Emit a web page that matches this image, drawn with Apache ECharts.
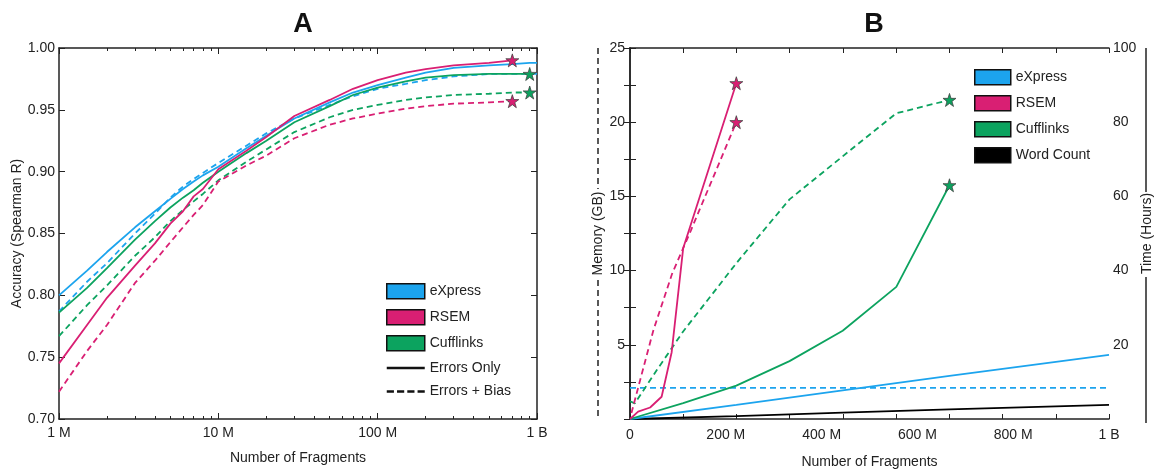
<!DOCTYPE html>
<html>
<head>
<meta charset="UTF-8">
<title>eXpress accuracy / resources</title>
<script src="https://cdn.jsdelivr.net/npm/echarts@6/dist/echarts.min.js"></script>
<style>
  html, body { margin: 0; padding: 0; background: #fff; }
  #main { width: 1158px; height: 470px; }
</style>
</head>
<body>
<div id="main"></div>
<script>
// panel A: accuracy vs number of fragments (millions, log axis)
var fragA = [1, 1.5, 2, 3, 4, 5, 6, 7, 8, 10, 15, 20, 30, 50, 70, 100, 150, 200, 300, 500, 700, 900, 1000];
var expressErrA  = [0.800, 0.820, 0.835, 0.855, 0.868, 0.878, 0.886, 0.892, 0.897, 0.904, 0.919, 0.929, 0.943, 0.956, 0.964, 0.970, 0.976, 0.980, 0.984, 0.986, 0.987, 0.988, 0.988];
var expressBiasA = [0.787, 0.811, 0.826, 0.850, 0.866, 0.879, 0.888, 0.894, 0.899, 0.907, 0.921, 0.931, 0.943, 0.954, 0.961, 0.967, 0.971, 0.974, 0.977, 0.979, 0.979, 0.979, 0.979];
var rsemErrA     = [0.745, 0.776, 0.798, 0.824, 0.842, 0.858, 0.868, 0.880, 0.886, 0.902, 0.917, 0.928, 0.945, 0.958, 0.967, 0.974, 0.980, 0.983, 0.986, 0.988, 0.990, null, null];
var rsemBiasA    = [0.722, 0.755, 0.776, 0.810, 0.828, 0.843, 0.855, 0.865, 0.873, 0.892, 0.905, 0.913, 0.927, 0.938, 0.943, 0.947, 0.951, 0.953, 0.955, 0.956, 0.957, null, null];
var cuffErrA     = [0.786, 0.806, 0.822, 0.845, 0.860, 0.871, 0.879, 0.885, 0.891, 0.900, 0.915, 0.925, 0.940, 0.953, 0.962, 0.968, 0.973, 0.976, 0.978, 0.979, 0.979, 0.979, null];
var cuffBiasA    = [0.767, 0.792, 0.808, 0.832, 0.847, 0.860, 0.869, 0.876, 0.882, 0.893, 0.908, 0.918, 0.932, 0.944, 0.950, 0.954, 0.958, 0.960, 0.962, 0.963, 0.964, 0.964, null];
var minorTicksA  = [2, 3, 4, 5, 6, 7, 8, 9, 20, 30, 40, 50, 60, 70, 80, 90, 200, 300, 400, 500, 600, 700, 800, 900];

// panel B: memory (GB, dashed) and time (hours, solid) vs fragments (millions)
var rsemTimeX    = [0, 17, 42, 66, 87, 111, 222];
var rsemTimeH    = [0, 2.0, 3.1, 6.0, 18.0, 46.0, 90.5];
var rsemMemX     = [3, 21, 49, 88, 127, 222];
var rsemMemGB    = [0.4, 2.6, 6.0, 9.8, 12.7, 20.0];
var cuffTimeX    = [0, 111, 222, 333, 444, 556, 667];
var cuffTimeH    = [0, 4.3, 9.0, 15.6, 23.8, 35.6, 63.0];
var cuffMemX     = [0, 10, 56, 111, 222, 333, 444, 556, 667];
var cuffMemGB    = [1.2, 1.05, 3.3, 5.9, 10.5, 14.8, 17.7, 20.6, 21.5];
var expressTimeX = [0, 222, 444, 667, 1000];
var expressTimeH = [0, 3.8, 7.7, 11.6, 17.3];
var expressMemX  = [0, 1000];
var expressMemGB = [2.1, 2.1];
var wcTimeX      = [0, 222, 444, 667, 1000];
var wcTimeH      = [0, 0.8, 1.7, 2.6, 3.8];

var BLUE = '#1ca4ee', PINK = '#d91f73', GREEN = '#0ca35f', INK = '#222';
var FONT = 'Liberation Sans';
var STAR = 'path://M50,2 L61,36 L97,36 L68,57 L79,92 L50,71 L21,92 L32,57 L3,36 L39,36 Z';

// zip x/y arrays, put a star on the last point if asked
function pts(xs, ys, star) {
    var out = [], last = -1;
    for (var i = 0; i < xs.length; i++) if (ys[i] != null) last = i;
    for (var i = 0; i <= last; i++) {
        var p = { value: [xs[i], ys[i]] };
        if (star && i === last) { p.symbol = STAR; p.symbolSize = 13; }
        out.push(p);
    }
    return out;
}

function line(name, color, dashed, data, xi, yi) {
    return {
        type: 'line', name: name, xAxisIndex: xi, yAxisIndex: yi,
        data: data, symbol: 'none', showSymbol: true, smooth: false,
        color: color,
        lineStyle: { color: color, width: 1.8, type: dashed ? [6, 4] : 'solid' },
        itemStyle: { color: color, borderColor: '#444', borderWidth: 0.8 },
        z: dashed ? 3 : 4
    };
}

var txt = { color: INK, fontFamily: FONT, fontSize: 14 };
var axLine = { show: true, lineStyle: { color: INK, width: 1.5 } };

var myChart = echarts.init(document.getElementById('main'), null, { renderer: 'canvas' });
var option = {
    animation: false,
    backgroundColor: '#fff',
    textStyle: { fontFamily: FONT },
    title: [
        { text: 'A', left: 298, top: 6, textAlign: 'center', textStyle: { fontSize: 27, fontWeight: 'bold', color: '#111', fontFamily: FONT } },
        { text: 'B', left: 869, top: 6, textAlign: 'center', textStyle: { fontSize: 27, fontWeight: 'bold', color: '#111', fontFamily: FONT } }
    ],
    grid: [
        { left: 59, top: 48, width: 478, height: 371, outerBoundsMode: 'none' },
        { left: 630, top: 48, width: 479, height: 371, outerBoundsMode: 'none' }
    ],
    legend: [
        {
            orient: 'vertical', left: 381, top: 278, itemWidth: 38, itemHeight: 15, itemGap: 9.5,
            textStyle: { color: INK, fontFamily: FONT, fontSize: 14 }, selectedMode: false,
            data: [
                { name: 'eXpress', icon: 'rect', itemStyle: { color: BLUE, borderColor: '#111', borderWidth: 1.5 } },
                { name: 'RSEM', icon: 'rect', itemStyle: { color: PINK, borderColor: '#111', borderWidth: 1.5 } },
                { name: 'Cufflinks', icon: 'rect', itemStyle: { color: GREEN, borderColor: '#111', borderWidth: 1.5 } },
                { name: 'Errors Only', icon: 'path://M0,0H40V2.6H0Z', itemStyle: { color: '#111', borderWidth: 0 } },
                { name: 'Errors + Bias', icon: 'path://M0,0H7V2.6H0Z M10,0H17V2.6H10Z M20,0H27V2.6H20Z M30,0H37V2.6H30Z', itemStyle: { color: '#111', borderWidth: 0 } }
            ]
        },
        {
            orient: 'vertical', left: 969, top: 64, itemWidth: 36, itemHeight: 15, itemGap: 9.5,
            textStyle: { color: INK, fontFamily: FONT, fontSize: 14 }, selectedMode: false,
            data: [
                { name: 'eXpress', icon: 'rect', itemStyle: { color: BLUE, borderColor: '#111', borderWidth: 1.5 } },
                { name: 'RSEM', icon: 'rect', itemStyle: { color: PINK, borderColor: '#111', borderWidth: 1.5 } },
                { name: 'Cufflinks', icon: 'rect', itemStyle: { color: GREEN, borderColor: '#111', borderWidth: 1.5 } },
                { name: 'Word Count', icon: 'rect', itemStyle: { color: '#000', borderColor: '#111', borderWidth: 1.5 } }
            ]
        }
    ],
    xAxis: [
        { // 0 A bottom, labels
            gridIndex: 0, type: 'log', min: 1, max: 1000, position: 'bottom',
            name: 'Number of Fragments', nameLocation: 'middle', nameGap: 32, nameTextStyle: txt,
            axisLine: axLine, splitLine: { show: false },
            axisTick: { show: true, inside: true, length: 6, lineStyle: { color: INK } },
            axisLabel: Object.assign({ margin: 7, formatter: function (v) {
                return { 1: '1 M', 10: '10 M', 100: '100 M', 1000: '1 B' }[Math.round(v)] || '';
            } }, txt)
        },
        { // 1 A bottom minor ticks
            gridIndex: 0, type: 'log', min: 1, max: 1000, position: 'bottom',
            axisLine: { show: false }, splitLine: { show: false }, axisLabel: { show: false },
            axisTick: { show: true, inside: true, length: 3, customValues: minorTicksA, lineStyle: { color: INK } }
        },
        { // 2 A top
            gridIndex: 0, type: 'log', min: 1, max: 1000, position: 'top',
            axisLine: axLine, splitLine: { show: false }, axisLabel: { show: false },
            axisTick: { show: true, inside: true, length: 6, lineStyle: { color: INK } }
        },
        { // 3 A top minor ticks
            gridIndex: 0, type: 'log', min: 1, max: 1000, position: 'top',
            axisLine: { show: false }, splitLine: { show: false }, axisLabel: { show: false },
            axisTick: { show: true, inside: true, length: 3, customValues: minorTicksA, lineStyle: { color: INK } }
        },
        { // 4 B bottom labels
            gridIndex: 1, type: 'value', min: 0, max: 1000, interval: 200, position: 'bottom',
            name: 'Number of Fragments', nameLocation: 'middle', nameGap: 36, nameTextStyle: txt,
            axisLine: axLine, splitLine: { show: false }, axisTick: { show: false },
            axisLabel: Object.assign({ margin: 9, formatter: function (v) {
                return v === 0 ? '0' : (v === 1000 ? '1 B' : v + ' M');
            } }, txt)
        },
        { // 5 B bottom ticks
            gridIndex: 1, type: 'value', min: 0, max: 1000, interval: 1000 / 9, position: 'bottom',
            axisLine: { show: false }, splitLine: { show: false }, axisLabel: { show: false },
            axisTick: { show: true, inside: true, length: 5, lineStyle: { color: INK } }
        },
        { // 6 B top ticks
            gridIndex: 1, type: 'value', min: 0, max: 1000, interval: 1000 / 9, position: 'top',
            axisLine: axLine, splitLine: { show: false }, axisLabel: { show: false },
            axisTick: { show: true, inside: true, length: 5, lineStyle: { color: INK } }
        }
    ],
    yAxis: [
        { // 0 A left
            gridIndex: 0, type: 'value', min: 0.7, max: 1.0, interval: 0.05, position: 'left',
            name: 'Accuracy (Spearman R)', nameLocation: 'middle', nameGap: 32, nameTextStyle: txt,
            axisLine: axLine, splitLine: { show: false },
            axisTick: { show: true, inside: true, length: 6, lineStyle: { color: INK } },
            axisLabel: Object.assign({ margin: 4, formatter: function (v) { return v.toFixed(2); } }, txt)
        },
        { // 1 A right
            gridIndex: 0, type: 'value', min: 0.7, max: 1.0, interval: 0.05, position: 'right',
            axisLine: axLine, splitLine: { show: false }, axisLabel: { show: false },
            axisTick: { show: true, inside: true, length: 6, lineStyle: { color: INK } }
        },
        { // 2 B memory
            gridIndex: 1, type: 'value', min: 0, max: 25, interval: 5, position: 'left',
            name: 'Memory (GB)', nameLocation: 'middle', nameGap: 25, nameTextStyle: txt,
            axisLine: axLine, splitLine: { show: false },
            axisTick: { show: true, inside: true, length: 6, lineStyle: { color: INK } },
            minorTick: { show: true, splitNumber: 2, length: 6, lineStyle: { color: INK } },
            axisLabel: Object.assign({ margin: 5, formatter: function (v) { return v === 0 ? '' : String(v); } }, txt)
        },
        { // 3 B time
            gridIndex: 1, type: 'value', min: 0, max: 100, interval: 20, position: 'right',
            name: 'Time (Hours)', nameLocation: 'middle', nameGap: 30, nameTextStyle: txt,
            axisLine: axLine, splitLine: { show: false },
            axisTick: { show: true, inside: true, length: 6, lineStyle: { color: INK } },
            minorTick: { show: true, splitNumber: 2, length: 6, lineStyle: { color: INK } },
            axisLabel: Object.assign({ margin: 4, formatter: function (v) { return v === 0 ? '' : String(v); } }, txt)
        }
    ],
    graphic: [
        // broken axis-name rules beside panel B
        { type: 'line', shape: { x1: 598, y1: 48, x2: 598, y2: 189 }, style: { stroke: INK, lineWidth: 1.5, lineDash: [6, 4] } },
        { type: 'line', shape: { x1: 598, y1: 280, x2: 598, y2: 419 }, style: { stroke: INK, lineWidth: 1.5, lineDash: [6, 4] } },
        { type: 'line', shape: { x1: 1146, y1: 48, x2: 1146, y2: 192 }, style: { stroke: INK, lineWidth: 1.5 } },
        { type: 'line', shape: { x1: 1146, y1: 277, x2: 1146, y2: 423 }, style: { stroke: INK, lineWidth: 1.5 } }
    ],
    series: [
        line('Errors Only', '#111', false, [], 0, 0),
        line('Errors + Bias', '#111', true, [], 0, 0),
        line('Cufflinks', GREEN, true, pts(fragA, cuffBiasA, true), 0, 0),
        line('RSEM', PINK, true, pts(fragA, rsemBiasA, true), 0, 0),
        line('eXpress', BLUE, true, pts(fragA, expressBiasA, false), 0, 0),
        line('Cufflinks', GREEN, false, pts(fragA, cuffErrA, true), 0, 0),
        line('eXpress', BLUE, false, pts(fragA, expressErrA, false), 0, 0),
        line('RSEM', PINK, false, pts(fragA, rsemErrA, true), 0, 0),

        line('Word Count', '#000', false, pts(wcTimeX, wcTimeH, false), 4, 3),
        line('eXpress', BLUE, true, pts(expressMemX, expressMemGB, false), 4, 2),
        line('eXpress', BLUE, false, pts(expressTimeX, expressTimeH, false), 4, 3),
        line('Cufflinks', GREEN, true, pts(cuffMemX, cuffMemGB, true), 4, 2),
        line('Cufflinks', GREEN, false, pts(cuffTimeX, cuffTimeH, true), 4, 3),
        line('RSEM', PINK, true, pts(rsemMemX, rsemMemGB, true), 4, 2),
        line('RSEM', PINK, false, pts(rsemTimeX, rsemTimeH, true), 4, 3)
    ]
};
myChart.setOption(option);
</script>
</body>
</html>
